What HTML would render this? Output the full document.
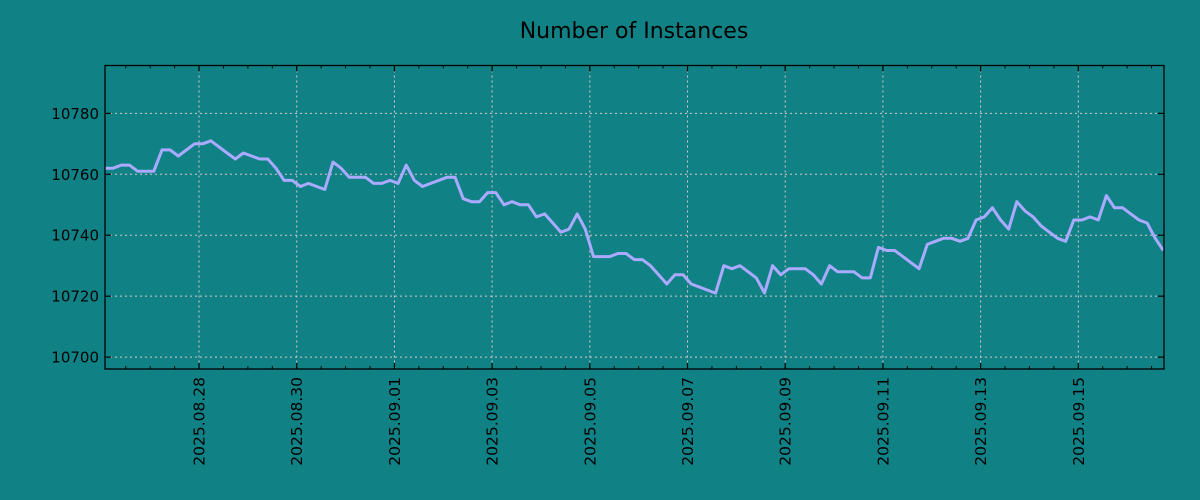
<!DOCTYPE html>
<html><head><meta charset="utf-8"><style>
body{margin:0;background:#108285;}
svg{display:block;font-family:"DejaVu Sans","Liberation Sans",sans-serif;}
</style></head><body>
<svg id="chart" width="1200" height="500">
<rect width="1200" height="500" fill="#108285"/>
<text x="634" y="38" text-anchor="middle" font-size="22" fill="#000">Number of Instances</text>
<g id="grid"></g><g id="ticks"></g><g id="series"></g>
<rect x="105" y="65.5" width="1059" height="303.5" fill="none" stroke="#000" stroke-width="1.3"/>
</svg>
<script>
const startHours = -46.2; // relative to 2025-08-28 00:00
const stepHours = 4;
const values = [10762,10762,10763,10763,10761,10761,10761,10768,10768,10766,10768,10770,10770,10771,10769,10767,10765,10767,10766,10765,10765,10762,10758,10758,10756,10757,10756,10755,10764,10762,10759,10759,10759,10757,10757,10758,10757,10763,10758,10756,10757,10758,10759,10759,10752,10751,10751,10754,10754,10750,10751,10750,10750,10746,10747,10744,10741,10742,10747,10742,10733,10733,10733,10734,10734,10732,10732,10730,10727,10724,10727,10727,10724,10723,10722,10721,10730,10729,10730,10728,10726,10721,10730,10727,10729,10729,10729,10727,10724,10730,10728,10728,10728,10726,10726,10736,10735,10735,10733,10731,10729,10737,10738,10739,10739,10738,10739,10745,10746,10749,10745,10742,10751,10748,10746,10743,10741,10739,10738,10745,10745,10746,10745,10753,10749,10749,10747,10745,10744,10739,10735];
const yTicks = [10700,10720,10740,10760,10780];
const xTickLabels = ["2025.08.28","2025.08.30","2025.09.01","2025.09.03","2025.09.05","2025.09.07","2025.09.09","2025.09.11","2025.09.13","2025.09.15"];
const xTickHours = [0,48,96,144,192,240,288,336,384,432];

const L=105,R=1164,T=65.5,B=369;
const xMin=-46.2,xMax=474.1,yMin=10696.1,yMax=10795.7;
const X=h=>L+(h-xMin)/(xMax-xMin)*(R-L);
const Y=v=>B-(v-yMin)/(yMax-yMin)*(B-T);
const NS="http://www.w3.org/2000/svg";
const mk=(t,a,p)=>{const e=document.createElementNS(NS,t);for(const k in a)e.setAttribute(k,a[k]);p.appendChild(e);return e;};
const grid=document.getElementById('grid'),ticks=document.getElementById('ticks'),series=document.getElementById('series');

yTicks.forEach((v,i)=>{
  const y=Y(v);
  const g=mk('line',{x1:L,x2:R,y1:y,y2:y,stroke:'#d8c8c8','stroke-width':1,'stroke-dasharray':'2,3'},grid);
  
  
  mk('line',{x1:L,x2:L+6,y1:y,y2:y,stroke:'#000','stroke-width':1.2},ticks);
  mk('line',{x1:R-6,x2:R,y1:y,y2:y,stroke:'#000','stroke-width':1.2},ticks);
  const t=mk('text',{x:99,y:y+5.5,'text-anchor':'end','font-size':15,fill:'#000'},ticks);
  t.textContent=v;
  
  
});
for(let h=-36;h<xMax;h+=12){
  const x=X(h);
  mk('line',{x1:x,x2:x,y1:B,y2:B-3,stroke:'#000','stroke-width':1},ticks);
  mk('line',{x1:x,x2:x,y1:T,y2:T+3,stroke:'#000','stroke-width':1},ticks);
}
xTickHours.forEach((h,i)=>{
  const x=X(h);
  const g=mk('line',{x1:x,x2:x,y1:T,y2:B,stroke:'#d8c8c8','stroke-width':1,'stroke-dasharray':'2,3'},grid);
  
  
  mk('line',{x1:x,x2:x,y1:B,y2:B-6,stroke:'#000','stroke-width':1.2},ticks);
  mk('line',{x1:x,x2:x,y1:T,y2:T+6,stroke:'#000','stroke-width':1.2},ticks);
  const t=mk('text',{x:0,y:0,'text-anchor':'end','font-size':15.5,fill:'#000',transform:`translate(${x+5.5},377) rotate(-90)`},ticks);
  t.textContent=xTickLabels[i];
  
  
});
const pts=values.map((v,i)=>X(startHours+i*stepHours).toFixed(1)+','+Y(v).toFixed(1)).join(' ');
const line=mk('polyline',{points:pts,fill:'none',stroke:'#aaaaff','stroke-width':3,'stroke-linejoin':'round'},series);


</script>
</body></html>
